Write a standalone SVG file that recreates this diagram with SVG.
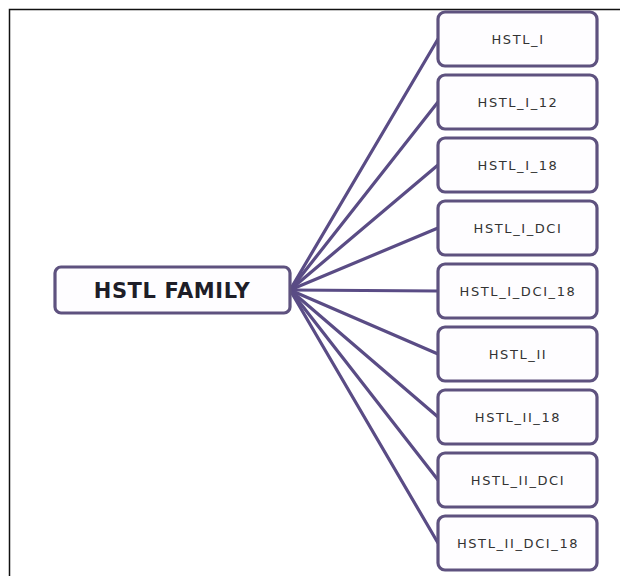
<svg xmlns="http://www.w3.org/2000/svg" width="620" height="576" viewBox="0 0 620 576">
<style>
.box{fill:#fefdff;stroke:#5e527f;stroke-width:3.2}
.lbl{font-family:"DejaVu Sans",sans-serif;font-size:13px;fill:#333;letter-spacing:1.6px;text-anchor:middle}
.main{font-family:"DejaVu Sans",sans-serif;font-weight:bold;font-size:21px;fill:#1e1e28;letter-spacing:0.6px;text-anchor:middle}
.conn{stroke:#5a4c85;stroke-width:3.2;fill:none;stroke-linecap:round}
</style>
<rect width="620" height="576" fill="#ffffff"/>
<rect x="9.5" y="9.5" width="640" height="600" fill="none" stroke="#111" stroke-width="1.5"/>
<g id="connectors">
<line class="conn" x1="290" y1="290" x2="438" y2="39"/>
<line class="conn" x1="290" y1="290" x2="438" y2="102"/>
<line class="conn" x1="290" y1="290" x2="438" y2="165"/>
<line class="conn" x1="290" y1="290" x2="438" y2="228"/>
<line class="conn" x1="290" y1="290" x2="438" y2="291"/>
<line class="conn" x1="290" y1="290" x2="438" y2="354"/>
<line class="conn" x1="290" y1="290" x2="438" y2="417"/>
<line class="conn" x1="290" y1="290" x2="438" y2="480"/>
<line class="conn" x1="290" y1="290" x2="438" y2="543"/>
</g>
<g id="hstl-family"><rect class="box" x="55" y="267" width="235" height="46" rx="6"/><text class="main" x="172" y="297.5">HSTL FAMILY</text></g>
<g id="n1"><rect class="box" x="438" y="12" width="159" height="54" rx="7"/><text class="lbl" x="518" y="43.5">HSTL_I</text></g>
<g id="n2"><rect class="box" x="438" y="75" width="159" height="54" rx="7"/><text class="lbl" x="518" y="106.5">HSTL_I_12</text></g>
<g id="n3"><rect class="box" x="438" y="138" width="159" height="54" rx="7"/><text class="lbl" x="518" y="169.5">HSTL_I_18</text></g>
<g id="n4"><rect class="box" x="438" y="201" width="159" height="54" rx="7"/><text class="lbl" x="518" y="232.5">HSTL_I_DCI</text></g>
<g id="n5"><rect class="box" x="438" y="264" width="159" height="54" rx="7"/><text class="lbl" x="518" y="295.5">HSTL_I_DCI_18</text></g>
<g id="n6"><rect class="box" x="438" y="327" width="159" height="54" rx="7"/><text class="lbl" x="518" y="358.5">HSTL_II</text></g>
<g id="n7"><rect class="box" x="438" y="390" width="159" height="54" rx="7"/><text class="lbl" x="518" y="421.5">HSTL_II_18</text></g>
<g id="n8"><rect class="box" x="438" y="453" width="159" height="54" rx="7"/><text class="lbl" x="518" y="484.5">HSTL_II_DCI</text></g>
<g id="n9"><rect class="box" x="438" y="516" width="159" height="54" rx="7"/><text class="lbl" x="518" y="547.5">HSTL_II_DCI_18</text></g>
</svg>
